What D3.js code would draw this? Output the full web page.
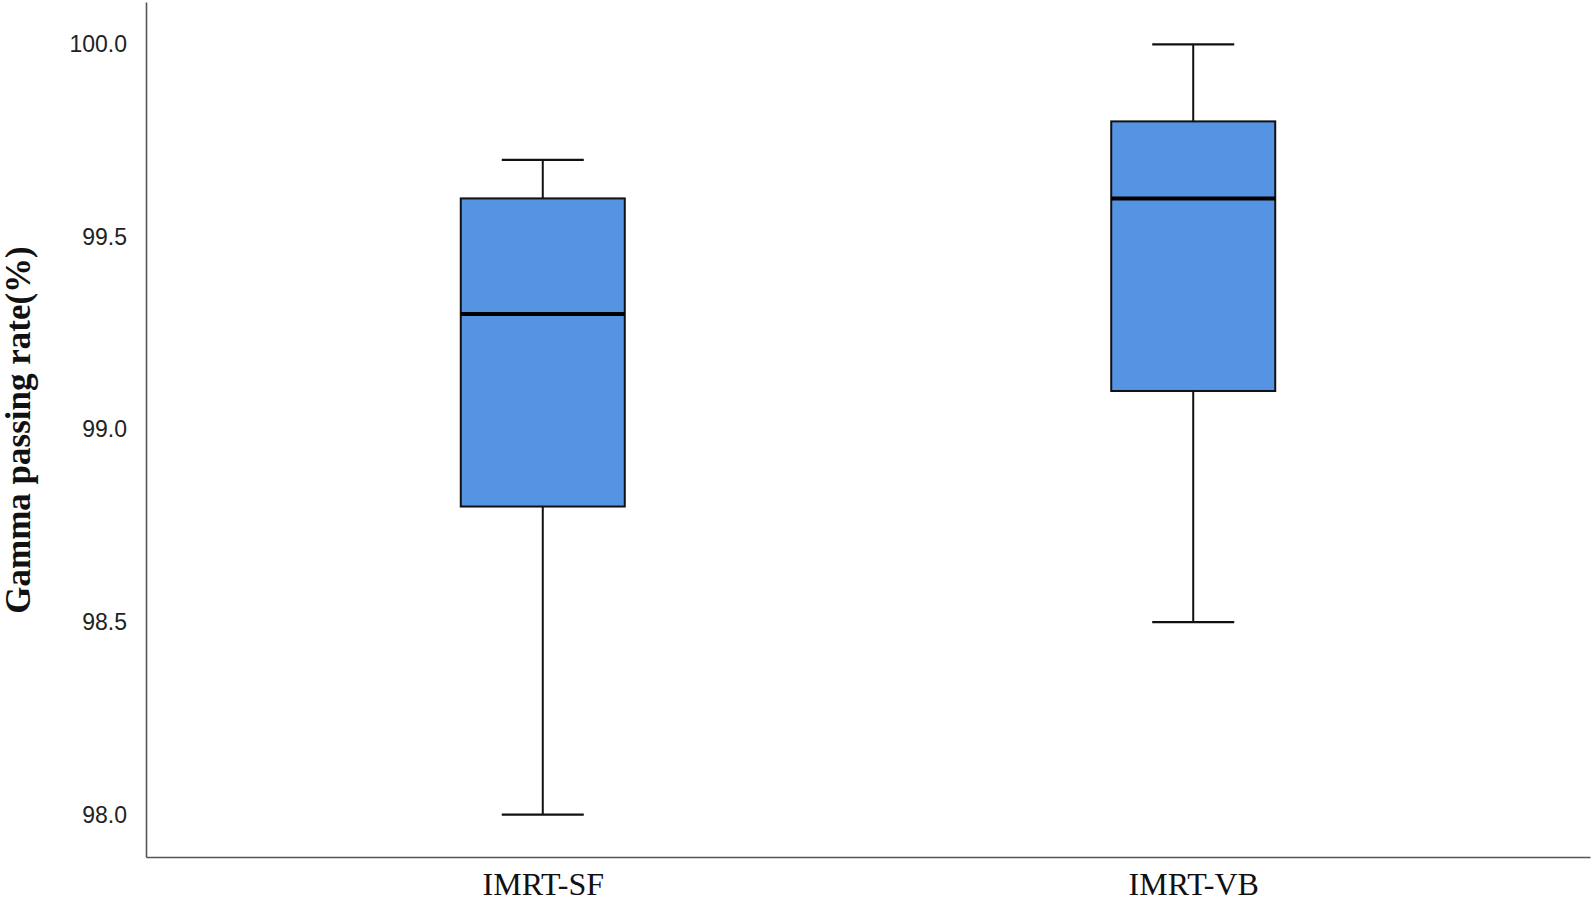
<!DOCTYPE html>
<html>
<head>
<meta charset="utf-8">
<script src="https://cdn.jsdelivr.net/npm/d3@7"></script>
<style>
  body { margin: 0; background: #fff; }
  svg { display: block; }
</style>
</head>
<body>
<svg id="chart" width="1594" height="901"></svg>
<script>
// box plot data
const groups = ["IMRT-SF", "IMRT-VB"];
const mins = [98.0, 98.5];
const q1s = [98.8, 99.1];
const medians = [99.3, 99.6];
const q3s = [99.6, 99.8];
const maxs = [99.7, 100.0];
const yTicks = [98.0, 98.5, 99.0, 99.5, 100.0];

const MARGIN = { left: 146, right: 4, top: 2, bottom: 44 };
const width = 1594, height = 901;

const svg = d3.select("#chart");

const xScale = d3.scalePoint()
  .domain(groups)
  .range([MARGIN.left, width - MARGIN.right])
  .padding(0.61);

const yScale = d3.scaleLinear()
  .domain([97.89, 100.11])
  .range([height - MARGIN.bottom, MARGIN.top]);

const boxW = 164;
const capW = 82;

const data = groups.map((g, i) => ({
  g, min: mins[i], q1: q1s[i], med: medians[i], q3: q3s[i], max: maxs[i]
}));

// axes
const yAxis = svg.append("g")
  .attr("transform", `translate(${MARGIN.left},0)`)
  .call(d3.axisLeft(yScale).tickValues(yTicks).tickFormat(d3.format(".1f")).tickSize(0).tickPadding(19));
yAxis.select(".domain").attr("stroke", "#555").attr("stroke-width", 1.6);
yAxis.selectAll("text")
  .style("font-family", "'Liberation Sans', Arial, sans-serif")
  .style("font-size", "23px")
  .attr("fill", "#222");

const xAxis = svg.append("g")
  .attr("transform", `translate(0,${height - MARGIN.bottom})`)
  .call(d3.axisBottom(xScale).tickSize(0).tickPadding(15));
xAxis.select(".domain").attr("stroke", "#555").attr("stroke-width", 1.6);
xAxis.selectAll("text")
  .attr("dy", "0.71em")
  .style("font-family", "'Liberation Serif', 'Times New Roman', serif")
  .style("font-size", "32px")
  .attr("fill", "#111");

// y axis title
svg.append("text")
  .attr("transform", `translate(30,${430}) rotate(-90)`)
  .style("text-anchor", "middle")
  .style("font-family", "'Liberation Serif', 'Times New Roman', serif")
  .style("font-weight", "bold")
  .style("font-size", "35px")
  .attr("fill", "#111")
  .text("Gamma passing rate(%)");

const boxes = svg.append("g").selectAll("g")
  .data(data)
  .join("g");

// whiskers
boxes.append("line")
  .attr("x1", d => xScale(d.g)).attr("x2", d => xScale(d.g))
  .attr("y1", d => yScale(d.min)).attr("y2", d => yScale(d.max))
  .attr("stroke", "#111").attr("stroke-width", 2);

boxes.append("line")
  .attr("x1", d => xScale(d.g) - capW / 2).attr("x2", d => xScale(d.g) + capW / 2)
  .attr("y1", d => yScale(d.max)).attr("y2", d => yScale(d.max))
  .attr("stroke", "#111").attr("stroke-width", 2.2);

boxes.append("line")
  .attr("x1", d => xScale(d.g) - capW / 2).attr("x2", d => xScale(d.g) + capW / 2)
  .attr("y1", d => yScale(d.min)).attr("y2", d => yScale(d.min))
  .attr("stroke", "#111").attr("stroke-width", 2.2);

// box
boxes.append("rect")
  .attr("x", d => xScale(d.g) - boxW / 2)
  .attr("width", boxW)
  .attr("y", d => yScale(d.q3))
  .attr("height", d => yScale(d.q1) - yScale(d.q3))
  .attr("fill", "#5594e3")
  .attr("stroke", "#111")
  .attr("stroke-width", 2);

// median
boxes.append("line")
  .attr("x1", d => xScale(d.g) - boxW / 2).attr("x2", d => xScale(d.g) + boxW / 2)
  .attr("y1", d => yScale(d.med)).attr("y2", d => yScale(d.med))
  .attr("stroke", "#000").attr("stroke-width", 4);
</script>
</body>
</html>
